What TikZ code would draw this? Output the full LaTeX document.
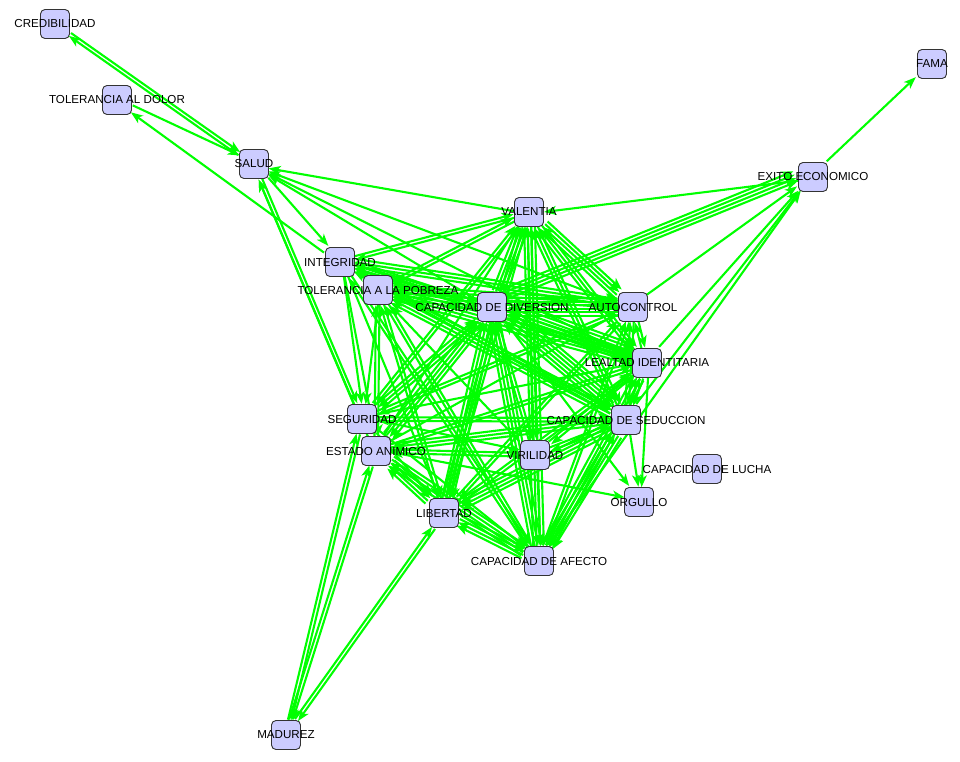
\documentclass[tikz,border=0pt]{standalone}
\usepackage{fontspec}
\setmainfont{Liberation Sans}
\usetikzlibrary{arrows.meta,calc}
\definecolor{boxfill}{RGB}{204,204,255}
\definecolor{edgegreen}{RGB}{0,255,0}
\pgfdeclarelayer{bg}
\pgfsetlayers{bg,main}
\begin{document}
\begin{tikzpicture}[x=1pt,y=-1pt,
  box/.style={draw=black!80, fill=boxfill, rounded corners=4.5pt, minimum size=29pt, inner sep=0pt, line width=0.9pt},
  lbl/.style={font=\fontsize{11.6}{13}\selectfont, inner sep=0pt, text=black},
  edge/.style={draw=edgegreen, line width=2.1pt, -{Stealth[length=12pt,width=9pt,inset=3.2pt]}}]
\useasboundingbox (0,0) rectangle (960,761);
% boxes
\node[box] (cred)  at (55,24)  {};
\node[box] (dolor) at (117,100) {};
\node[box] (salud) at (254,164) {};
\node[box] (fama)  at (932,64)  {};
\node[box] (exito) at (813,177) {};
\node[box] (val)   at (529,212) {};
\node[box] (integ) at (340,262) {};
\node[box] (pobre) at (378,290) {};
\node[box] (diver) at (492,307) {};
\node[box] (auto)  at (633,307) {};
\node[box] (leal)  at (647,363) {};
\node[box] (segur) at (362,419) {};
\node[box] (seduc) at (626,420) {};
\node[box] (anim)  at (376,451) {};
\node[box] (viril) at (535,455) {};
\node[box] (lucha) at (707,469) {};
\node[box] (orgu)  at (639,502) {};
\node[box] (liber) at (444,513) {};
\node[box] (afec)  at (539,561) {};
\node[box] (madu)  at (286,735) {};
% edges (source/target/multiplicity)
\begin{pgfonlayer}{bg}
\foreach \a/\b/\k in {salud/cred/1, cred/salud/1, dolor/salud/1, integ/dolor/1, exito/fama/1,
 salud/integ/1, salud/segur/1, val/salud/1, diver/salud/1, auto/salud/1, leal/salud/1, segur/salud/1, anim/salud/1,
 exito/val/1,
 integ/val/1, pobre/val/1, diver/val/2, auto/val/2, leal/val/2, seduc/val/2, segur/val/1, anim/val/1, viril/val/1, liber/val/2, afec/val/2,
 val/integ/1, diver/integ/2, auto/integ/1, leal/integ/1, seduc/integ/1, afec/integ/1,
 val/pobre/1, diver/pobre/2, auto/pobre/1, leal/pobre/2, seduc/pobre/2, viril/pobre/1, liber/pobre/1, afec/pobre/1, anim/pobre/1,
 val/diver/2, integ/diver/1, pobre/diver/2, auto/diver/3, leal/diver/2, seduc/diver/2, segur/diver/1, anim/diver/2, viril/diver/1, liber/diver/2, afec/diver/2,
 val/auto/2, integ/auto/2, pobre/auto/2, diver/auto/3, leal/auto/1, seduc/auto/1, segur/auto/1, anim/auto/1, liber/auto/1, afec/auto/1,
 val/leal/1, integ/leal/2, pobre/leal/2, diver/leal/4, auto/leal/1, seduc/leal/1, segur/leal/1, anim/leal/1, viril/leal/1, liber/leal/1, afec/leal/2,
 val/seduc/1, integ/seduc/1, pobre/seduc/2, diver/seduc/4, auto/seduc/1, leal/seduc/1, segur/seduc/1, anim/seduc/2, viril/seduc/1, liber/seduc/2, afec/seduc/2,
 integ/segur/1, pobre/segur/1, diver/segur/2, seduc/segur/1, madu/segur/1, val/segur/1, auto/segur/1,
 pobre/anim/1, diver/anim/2, leal/anim/1, seduc/anim/1, viril/anim/1, liber/anim/2, afec/anim/2, madu/anim/1, integ/anim/1,
 diver/viril/1, val/viril/1, seduc/viril/1, segur/viril/1, anim/viril/1, leal/viril/1,
 diver/liber/2, integ/liber/1, pobre/liber/1, val/liber/1, auto/liber/1, leal/liber/1, seduc/liber/2, anim/liber/2, madu/liber/1, afec/liber/2, segur/liber/1,
 val/afec/2, integ/afec/1, pobre/afec/1, diver/afec/2, auto/afec/1, leal/afec/2, seduc/afec/2, segur/afec/1, anim/afec/2, viril/afec/1, liber/afec/2,
 seduc/orgu/1, leal/orgu/1, diver/orgu/1, anim/orgu/1,
 diver/exito/4, auto/exito/1, leal/exito/1, seduc/exito/1, afec/exito/1,
 segur/madu/1, anim/madu/1, liber/madu/1}{
  \path let \p1=(\a.center), \p2=(\b.center) in
    \pgfextra{\pgfmathsetmacro\tmpang{atan2(\y2-\y1,\x2-\x1)}\xdef\angab{\tmpang}};
  \pgfmathtruncatemacro\anga{mod(round(\angab)+720,360)}
  \pgfmathtruncatemacro\angb{mod(\anga+180,360)}
  \foreach \i in {1,...,\k}{
    \pgfmathsetmacro\off{(\i-0.5)*3.6}
    \draw[edge] ([shift={(\anga+90:\off pt)}]\a.\anga) -- ([shift={(\anga+90:\off pt)}]\b.\angb);
  }
}
\end{pgfonlayer}
% labels
\node[lbl] at (cred)  {CREDIBILIDAD};
\node[lbl] at (dolor) {TOLERANCIA AL DOLOR};
\node[lbl] at (salud) {SALUD};
\node[lbl] at (fama)  {FAMA};
\node[lbl] at (exito) {EXITO ECONOMICO};
\node[lbl] at (val)   {VALENTIA};
\node[lbl] at (integ) {INTEGRIDAD};
\node[lbl] at (pobre) {TOLERANCIA A LA POBREZA};
\node[lbl] at (diver) {CAPACIDAD DE DIVERSION};
\node[lbl] at (auto)  {AUTOCONTROL};
\node[lbl] at (leal)  {LEALTAD IDENTITARIA};
\node[lbl] at (segur) {SEGURIDAD};
\node[lbl] at (seduc) {CAPACIDAD DE SEDUCCION};
\node[lbl] at (anim)  {ESTADO ANIMICO};
\node[lbl] at (viril) {VIRILIDAD};
\node[lbl] at (lucha) {CAPACIDAD DE LUCHA};
\node[lbl] at (orgu)  {ORGULLO};
\node[lbl] at (liber) {LIBERTAD};
\node[lbl] at (afec)  {CAPACIDAD DE AFECTO};
\node[lbl] at (madu)  {MADUREZ};
\end{tikzpicture}
\end{document}
